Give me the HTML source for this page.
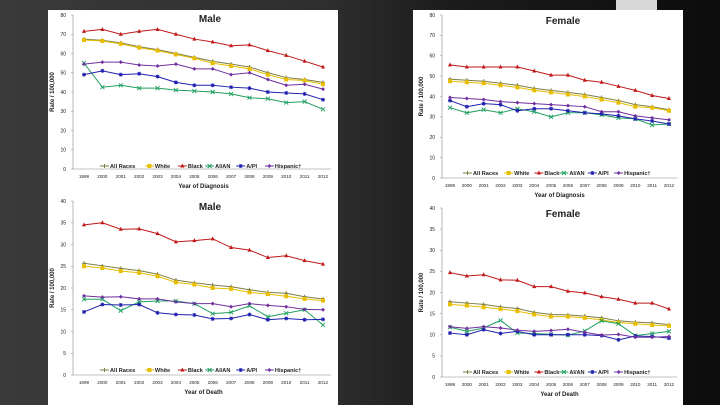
<!DOCTYPE html>
<html><head><meta charset="utf-8"><style>
html,body{margin:0;padding:0}
body{width:720px;height:405px;overflow:hidden;position:relative;background:linear-gradient(90deg,#3a3a3a 0%,#2e2e2e 45%,#1c1c1c 62%,#0c0c0c 100%);font-family:"Liberation Sans",sans-serif}
.panel{position:absolute;background:#fff}
</style></head><body>
<div class="panel" style="left:48px;top:10px;width:290px;height:395px"></div>
<div class="panel" style="left:413px;top:10px;width:270px;height:395px"></div>
<div style="position:absolute;left:616px;top:0;width:41px;height:10px;background:#d8d8d8"></div>
<svg id="svg" width="720" height="405" style="position:absolute;left:0;top:0" xmlns="http://www.w3.org/2000/svg"></svg>
<script>
const years=[1999,2000,2001,2002,2003,2004,2005,2006,2007,2008,2009,2010,2011,2012];
const seriesNames=["All Races","White","Black","AI/AN","A/PI","Hispanic†"];
// Male incidence
const mInc_all=[67.5,66.8,65.5,63.5,62,60,58,56,54.5,53,50,47.5,46.5,45];
const mInc_white=[67,66.5,65,63,61.5,59.5,57.5,55,53.5,52,49,46.5,46,44];
const mInc_black=[71.5,72.5,70,71.5,72.5,70,67.5,66,64,64.5,61.5,59,56,53];
const mInc_aian=[55,42.5,43.5,42,42,41,40.5,40,39,37,36.5,34.5,35,31];
const mInc_api=[49,51,49,49.5,48,45,43.5,43.5,42.5,42,40,39.5,39,36];
const mInc_hisp=[54.5,55.5,55.5,54,53.5,54.5,52,52,49,50,46.5,43.5,44,41.5];
// Female incidence
const fInc_all=[48.5,48,47.5,46.5,45.5,44,43,42,41,39.5,38,36,35,33.5];
const fInc_white=[47.5,47,46.5,45.5,44.5,43,42,41,40,38.5,37,35,34.5,33];
const fInc_black=[55.5,54.5,54.5,54.5,54.5,52.5,50.5,50.5,48,47,45,43,40.5,39];
const fInc_aian=[34.5,32,33.5,32,34,32.5,30,32,32,31,29.5,29,26,26.5];
const fInc_api=[38,35,36.5,36,33,34,34,33,32,31.5,30.5,29,28,26.5];
const fInc_hisp=[39.5,39,38.5,37.5,37,36.5,36,35.5,35,32.5,32.5,30.5,29.5,28.5];
// Male mortality
const mMort_all=[25.7,25.1,24.5,24,23.2,21.8,21.2,20.7,20.3,19.6,19,18.8,18,17.5];
const mMort_white=[25,24.6,23.9,23.5,22.7,21.3,20.8,20,19.8,19,18.6,18.1,17.5,17.1];
const mMort_black=[34.5,35,33.5,33.6,32.5,30.6,30.9,31.3,29.3,28.7,27,27.4,26.3,25.5];
const mMort_aian=[17.4,17.4,14.8,16.8,17,17,16.4,14.1,14.4,15.9,13.4,14.2,15,11.5];
const mMort_api=[14.5,16.2,16.1,16.2,14.3,13.9,13.8,12.9,13,13.9,12.7,13,12.7,12.8];
const mMort_hisp=[18.2,17.9,18,17.5,17.5,16.8,16.4,16.4,15.7,16.4,16,15.7,15.1,15];
// Female mortality
const fMort_all=[17.8,17.5,17.2,16.6,16.2,15.3,14.8,14.7,14.4,14,13.3,13,12.8,12.4];
const fMort_white=[17.2,16.9,16.5,16.1,15.6,14.8,14.3,14.3,14,13.5,12.9,12.6,12.3,12.1];
const fMort_black=[24.7,23.9,24.2,23,22.9,21.4,21.4,20.3,19.9,19,18.4,17.5,17.5,16.1];
const fMort_aian=[11.8,10.8,11.6,13.4,10.4,10.3,10.1,9.9,10.9,13.3,12.6,9.8,10.3,10.8];
const fMort_api=[10.4,10,11.2,10.3,10.8,10,10,10,10,9.8,8.8,9.7,9.6,9.2];
const fMort_hisp=[11.9,11.5,11.9,11.6,11.1,10.8,11,11.3,10.6,9.9,10.1,9.4,9.4,9.6];
const incTicks=[0,10,20,30,40,50,60,70,80];
const mortTicks=[0,5,10,15,20,25,30,35,40];

const colors=["#7d7d45","#e8be00","#c01818","#20a060","#2020b0","#7030a0"];
const markers=["plus","square","tri","x","star","diamond"];
const legOff=[0,0.188,0.326,0.44,0.57,0.69];
const svg=document.getElementById('svg');
const NS="http://www.w3.org/2000/svg";
function mk(tag,attrs,parent){const e=document.createElementNS(NS,tag);for(const k in attrs)e.setAttribute(k,attrs[k]);(parent||svg).appendChild(e);return e;}
function txt(x,y,s,size,anchor,weight,parent){const t=mk('text',{x:x,y:y,'font-size':size,'text-anchor':anchor||'middle','font-weight':weight||'normal',fill:'#222','font-family':'Liberation Sans, sans-serif'},parent);t.textContent=s;return t;}
function marker(g,type,x,y,c){
  const r=2;
  if(type==='square'){return mk('rect',{x:x-r,y:y-r,width:2*r,height:2*r,fill:c},g);}
  if(type==='tri'){return mk('polygon',{points:`${x},${y-r-0.5} ${x-r},${y+r-0.5} ${x+r},${y+r-0.5}`,fill:c},g);}
  if(type==='diamond'){return mk('polygon',{points:`${x},${y-r} ${x+r},${y} ${x},${y+r} ${x-r},${y}`,fill:c},g);}
  if(type==='plus'){return mk('path',{d:`M${x-r} ${y}H${x+r}M${x} ${y-r}V${y+r}`,stroke:c,'stroke-width':1},g);}
  if(type==='x'){return mk('path',{d:`M${x-r} ${y-r}L${x+r} ${y+r}M${x-r} ${y+r}L${x+r} ${y-r}`,stroke:c,'stroke-width':0.9},g);}
  return mk('path',{d:`M${x-r} ${y}H${x+r}M${x} ${y-r}V${y+r}M${x-1.5} ${y-1.5}L${x+1.5} ${y+1.5}M${x-1.5} ${y+1.5}L${x+1.5} ${y-1.5}`,stroke:c,'stroke-width':0.9},g);
}
function chart(name,cfg,series,ticks,title,xtitle){
  const g=mk('g',{});
  
  
  const ymax=ticks[ticks.length-1];
  const yS=v=>cfg.y0+(cfg.yTop-cfg.y0)*v/ymax;
  const xS=i=>cfg.x0+(cfg.x1-cfg.x0)*i/(years.length-1);
  const ax=mk('path',{d:`M${cfg.ax} ${cfg.yTop}V${cfg.y0}H${cfg.x1+8}`,stroke:'#888','stroke-width':0.6,fill:'none'},g);
  
  
  ticks.forEach(t=>{const y=yS(t);mk('line',{x1:cfg.ax-2,x2:cfg.ax,y1:y,y2:y,stroke:'#888','stroke-width':0.5},g);
    const l=txt(cfg.ax-7,y+1.8,String(t),5,'end','normal',g);
    
    });
  years.forEach((yr,i)=>{const l=txt(xS(i),cfg.y0+9,String(yr),4.6,'middle','normal',g);
    
    });
  const tt=txt(cfg.titleX,cfg.titleY,title,10,'middle','bold',g);
  
  
  const xt=txt((cfg.x0+cfg.x1)/2,cfg.y0+19,xtitle,6,'middle','bold',g);
  
  
  const yt=txt(0,0,'Rate / 100,000',6,'middle','bold',g);
  yt.setAttribute('transform',`translate(${cfg.ax-19},${(cfg.y0+cfg.yTop)/2}) rotate(-90)`);
  
  
  series.forEach((vals,s)=>{
    const pts=vals.map((v,i)=>xS(i)+','+yS(v)).join(' ');
    const pl=mk('polyline',{points:pts,fill:'none',stroke:colors[s],'stroke-width':1},g);
    
    
    vals.forEach((v,i)=>marker(g,markers[s],xS(i),yS(v),colors[s]));
  });
  const W=cfg.x1-cfg.x0;
  seriesNames.forEach((n,s)=>{
    const lx=cfg.legX+legOff[s]*W;
    const ly=cfg.legY;
    const lg=mk('g',{},g);
    
    
    mk('line',{x1:lx,x2:lx+9,y1:ly,y2:ly,stroke:colors[s],'stroke-width':1},lg);
    marker(lg,markers[s],lx+4.5,ly,colors[s]);
    txt(lx+10,ly+2,n,5.6,'start','bold',lg);
  });
}
chart('male-incidence-chart',{ax:73,x0:84,x1:323,y0:169,yTop:15,titleX:210,titleY:22,legX:100,legY:166},
  [mInc_all,mInc_white,mInc_black,mInc_aian,mInc_api,mInc_hisp],incTicks,'Male','Year of Diagnosis');
chart('male-mortality-chart',{ax:73,x0:84,x1:323,y0:375,yTop:201,titleX:210,titleY:210,legX:100,legY:370},
  [mMort_all,mMort_white,mMort_black,mMort_aian,mMort_api,mMort_hisp],mortTicks,'Male','Year of Death');
chart('female-incidence-chart',{ax:442,x0:450,x1:669,y0:178,yTop:15,titleX:563,titleY:24,legX:463,legY:173},
  [fInc_all,fInc_white,fInc_black,fInc_aian,fInc_api,fInc_hisp],incTicks,'Female','Year of Diagnosis');
chart('female-mortality-chart',{ax:442,x0:450,x1:669,y0:377,yTop:208,titleX:563,titleY:217,legX:463,legY:372},
  [fMort_all,fMort_white,fMort_black,fMort_aian,fMort_api,fMort_hisp],mortTicks,'Female','Year of Death');
</script>
</body></html>
